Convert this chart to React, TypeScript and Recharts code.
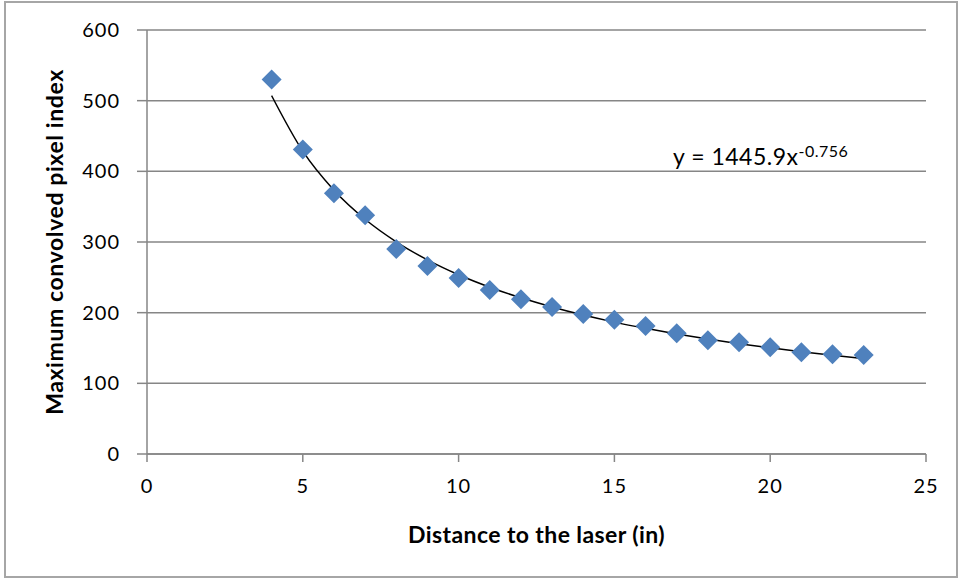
import {
  CartesianGrid,
  ComposedChart,
  Label,
  Line,
  Scatter,
  XAxis,
  YAxis,
} from "recharts";

const distances = [4, 5, 6, 7, 8, 9, 10, 11, 12, 13, 14, 15, 16, 17, 18, 19, 20, 21, 22, 23];
const pixelIndex = [530, 431, 369, 338, 290, 266, 249, 232, 219, 208, 198, 190, 181, 171, 161, 158, 151, 144, 141, 140];
// power trendline y = 1445.9x^-0.756, values at each distance
const trendValues = [507.0, 428.5, 373.3, 332.2, 300.3, 274.7, 253.6, 236.0, 221.0, 208.0, 196.6, 186.6, 177.8, 169.8, 162.6, 156.1, 150.2, 144.7, 139.7, 135.1];
const xTicks = [0, 5, 10, 15, 20, 25];
const yTicks = [0, 100, 200, 300, 400, 500, 600];

const points = distances.map((x, i) => ({ x, y: pixelIndex[i] }));
const trend = distances.map((x, i) => ({ x, y: trendValues[i] }));

const FONT = "Lato, 'Open Sans', sans-serif";
const GREY = "#868686";
const tickStyle = { fill: "#000", fontSize: 20, fontFamily: FONT, letterSpacing: 1 };

function Diamond(props: any) {
  const { cx, cy } = props;
  const r = 10;
  return (
    <polygon
      fill="#4F81BD"
      points={`${cx},${cy - r} ${cx + r},${cy} ${cx},${cy + r} ${cx - r},${cy}`}
    />
  );
}

export default function App() {
  return (
    <div
      style={{
        position: "absolute",
        left: 0,
        top: 0,
        width: 960,
        height: 579,
        background: "#fff",
        fontFamily: FONT,
      }}
    >
      <div
        style={{
          position: "absolute",
          left: 4,
          top: 1,
          width: 950,
          height: 573,
          border: "2px solid #a6a6a6",
        }}
      />
      <ComposedChart
        height={579}
        margin={{ top: 30, right: 34, bottom: 0, left: 0 }}
        style={{ position: "absolute", left: 0, top: 0 }}
        width={960}
      >
        <CartesianGrid horizontal stroke={GREY} strokeWidth={1.5} vertical={false} />
        <XAxis
          allowDataOverflow
          axisLine={{ stroke: GREY, strokeWidth: 1.5 }}
          dataKey="x"
          domain={[0, 25]}
          height={125}
          tick={tickStyle}
          tickLine={{ stroke: GREY, strokeWidth: 1.5 }}
          tickMargin={17}
          tickSize={8}
          ticks={xTicks}
          type="number"
        >
          <Label
            fill="#000"
            fontFamily={FONT}
            fontSize={23}
            fontWeight="bold"
            offset={36}
            position="insideBottom"
            style={{ letterSpacing: 0.4 }}
            value="Distance  to the laser (in)"
          />
        </XAxis>
        <YAxis
          axisLine={{ stroke: GREY, strokeWidth: 1.5 }}
          domain={[0, 600]}
          tick={tickStyle}
          tickLine={{ stroke: GREY, strokeWidth: 1.5 }}
          tickMargin={17}
          tickSize={10}
          ticks={yTicks}
          type="number"
          width={147}
        >
          <Label
            angle={-90}
            fill="#000"
            fontFamily={FONT}
            fontSize={23}
            fontWeight="bold"
            offset={55}
            position="insideLeft"
            style={{ textAnchor: "middle", letterSpacing: 0.6 }}
            value="Maximum convolved  pixel index"
          />
        </YAxis>
        <Scatter
          data={points}
          dataKey="y"
          isAnimationActive={false}
          shape={<Diamond />}
        />
        <Line
          data={trend}
          dataKey="y"
          dot={false}
          isAnimationActive={false}
          stroke="#000"
          strokeWidth={1.5}
          type="monotone"
        />
      </ComposedChart>
      <div
        style={{
          position: "absolute",
          left: 673,
          top: 145,
          fontSize: 23,
          lineHeight: 1,
          letterSpacing: 0.5,
          color: "#000",
          whiteSpace: "nowrap",
        }}
      >
        y = 1445.9x
        <span style={{ fontSize: 16, position: "relative", top: -8 }}>-0.756</span>
      </div>
    </div>
  );
}
